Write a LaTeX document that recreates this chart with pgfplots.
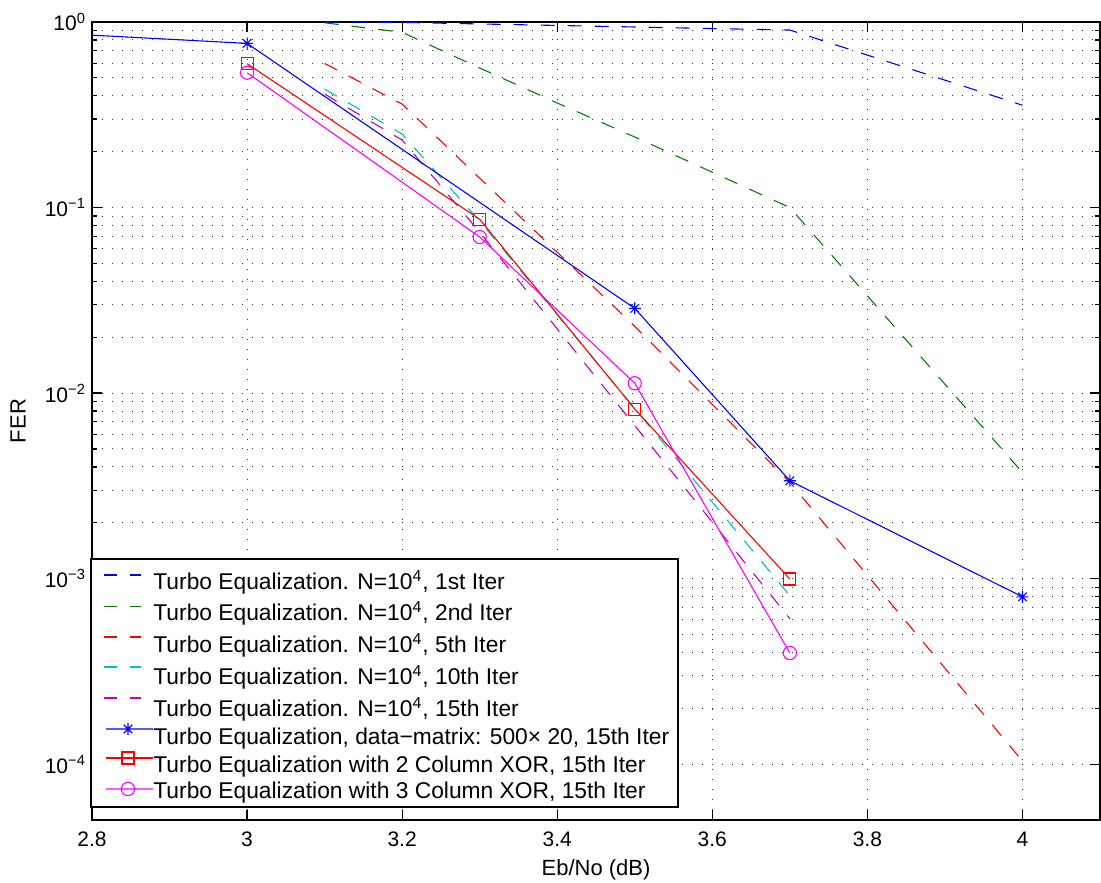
\documentclass[border=0pt]{standalone}
\usepackage{fontspec}
\setmainfont{Liberation Sans}
\usepackage{pgfplots}
\pgfplotsset{compat=1.18}
\definecolor{mblue}{rgb}{0,0,1}
\definecolor{mgreen}{rgb}{0,0.5,0}
\definecolor{mred}{rgb}{1,0,0}
\definecolor{mcyan}{rgb}{0,0.75,0.75}
\definecolor{mpurple}{rgb}{0.75,0,0.75}
\definecolor{mmag}{rgb}{1,0,1}
\pgfdeclareplotmark{mstar}{%
 \pgfpathmoveto{\pgfqpoint{-\pgfplotmarksize}{0pt}}\pgfpathlineto{\pgfqpoint{\pgfplotmarksize}{0pt}}%
 \pgfpathmoveto{\pgfqpoint{0pt}{-\pgfplotmarksize}}\pgfpathlineto{\pgfqpoint{0pt}{\pgfplotmarksize}}%
 \pgfpathmoveto{\pgfqpoint{-0.707\pgfplotmarksize}{-0.707\pgfplotmarksize}}\pgfpathlineto{\pgfqpoint{0.707\pgfplotmarksize}{0.707\pgfplotmarksize}}%
 \pgfpathmoveto{\pgfqpoint{-0.707\pgfplotmarksize}{0.707\pgfplotmarksize}}\pgfpathlineto{\pgfqpoint{0.707\pgfplotmarksize}{-0.707\pgfplotmarksize}}%
 \pgfusepathqstroke}
\newcommand{\legfont}{\fontsize{11.4}{12}\selectfont}
\begin{document}
\begin{tikzpicture}
\begin{axis}[
  scale only axis, width=504pt, height=399pt,
  ymode=log, xmin=2.8, xmax=4.1, ymin=5e-5, ymax=1,
  xtick={2.8,3,3.2,3.4,3.6,3.8,4},
  xticklabels={2.8,3,3.2,3.4,3.6,3.8,4},
  ytick={1e-4,1e-3,1e-2,1e-1,1},
  yticklabels={10\textsuperscript{−4},10\textsuperscript{−3},10\textsuperscript{−2},10\textsuperscript{−1},10\textsuperscript{0}},
  minor x tick num=0,
  tick align=inside, major tick length=5pt, minor tick length=2.5pt,
  axis line style={line width=0.8pt},
  every tick/.style={black, line width=0.6pt},
  grid=both,
  major grid style={dash pattern=on 0.6pt off 4.4pt, black!80, line width=0.5pt},
  minor grid style={dash pattern=on 0.6pt off 4.4pt, black!80, line width=0.5pt},
  /pgf/number format/assume math mode=true,
  tick label style={font=\fontsize{10.5}{12}\selectfont},
  xticklabel style={yshift=-2.3pt},
  yticklabel style={xshift=0.5pt},
  xlabel={Eb/No (dB)}, ylabel={FER},
  label style={font=\fontsize{11}{13}\selectfont},
  xlabel style={at={(axis description cs:0.5,-0.0627)}, anchor=center},
  ylabel style={at={(axis description cs:-0.0734,0.5)}, anchor=center},
  every axis plot/.append style={line width=0.55pt},
]
\addplot[mblue, dash pattern=on 7pt off 6.5pt] coordinates {(3.1,1.0) (3.2,0.995) (3.3,0.976) (3.4,0.958) (3.5,0.94) (3.6,0.922) (3.7,0.905) (4.0,0.356)};
\addplot[mgreen, dash pattern=on 7pt off 6.5pt] coordinates {(3.1,0.99) (3.2,0.88) (3.3,0.565) (3.4,0.366) (3.5,0.24) (3.6,0.155) (3.7,0.1) (4.0,0.00373)};
\addplot[mred, dash pattern=on 7pt off 6.5pt] coordinates {(3.1,0.598) (3.2,0.361) (3.3,0.144) (3.5,0.0229) (3.7,0.0033) (4.0,1.04e-4)};
\addplot[mcyan, dash pattern=on 7pt off 6.5pt] coordinates {(3.1,0.435) (3.2,0.249) (3.3,0.0844) (3.5,0.00826) (3.7,8.09e-4)};
\addplot[mpurple, dash pattern=on 7pt off 6.5pt] coordinates {(3.1,0.409) (3.2,0.231) (3.3,0.0736) (3.5,0.00668) (3.7,6.08e-4)};
\addplot[mblue, mark=mstar, mark size=3pt, mark options={solid}] coordinates {(2.5,0.99) (3,0.767) (3.5,0.0286) (3.7,0.00337) (4,7.98e-4)};
\addplot[mred, mark=square, mark size=3pt, mark options={solid}] coordinates {(3,0.596) (3.3,0.0865) (3.5,0.0082) (3.7,9.95e-4)};
\addplot[mmag, mark=o, mark size=3.3pt, mark options={solid}] coordinates {(3,0.533) (3.3,0.0694) (3.5,0.0113) (3.7,3.97e-4)};
\end{axis}
% legend box, drawn after the axis
\begin{scope}[shift={(current axis.south west)}]
  \draw[fill=white, line width=0.6pt] (-0.5pt,6.5pt) rectangle (293pt,130.5pt);
  % dashed samples
  \draw[mblue, line width=0.55pt] (6pt,122.5pt) -- (12.3pt,122.5pt) (19pt,122.5pt) -- (24.6pt,122.5pt);
  \draw[mgreen, line width=0.55pt] (6pt,106.7pt) -- (12.3pt,106.7pt) (19pt,106.7pt) -- (24.6pt,106.7pt);
  \draw[mred, line width=0.55pt] (6pt,91.5pt) -- (12.3pt,91.5pt) (19pt,91.5pt) -- (24.6pt,91.5pt);
  \draw[mcyan, line width=0.55pt] (6pt,76.5pt) -- (12.3pt,76.5pt) (19pt,76.5pt) -- (24.6pt,76.5pt);
  \draw[mpurple, line width=0.55pt] (6pt,61pt) -- (12.3pt,61pt) (19pt,61pt) -- (24.6pt,61pt);
  % solid samples with symbols
  \draw[mblue, line width=0.55pt] (7pt,45.5pt) -- (30.5pt,45.5pt)
    (18pt,42.5pt) -- (18pt,48.5pt) (15pt,45.5pt) -- (21pt,45.5pt)
    (15.88pt,43.38pt) -- (20.12pt,47.62pt) (15.88pt,47.62pt) -- (20.12pt,43.38pt);
  \draw[mred, line width=0.55pt] (7pt,31pt) -- (30.5pt,31pt) (15pt,28pt) rectangle (21pt,34pt);
  \draw[mmag, line width=0.55pt] (7pt,15.5pt) -- (30.5pt,15.5pt) (18pt,15.5pt) circle[radius=3.3pt];
  % texts
  \node[anchor=base west, inner sep=0pt, font=\legfont] at (30.5pt,115.25pt) {Turbo Equalization. N=10\textsuperscript{4}, 1st Iter};
  \node[anchor=base west, inner sep=0pt, font=\legfont] at (30.5pt,99.6pt) {Turbo Equalization. N=10\textsuperscript{4}, 2nd Iter};
  \node[anchor=base west, inner sep=0pt, font=\legfont] at (30.5pt,83.6pt) {Turbo Equalization. N=10\textsuperscript{4}, 5th Iter};
  \node[anchor=base west, inner sep=0pt, font=\legfont] at (30.5pt,67.6pt) {Turbo Equalization. N=10\textsuperscript{4}, 10th Iter};
  \node[anchor=base west, inner sep=0pt, font=\legfont] at (30.5pt,51.6pt) {Turbo Equalization. N=10\textsuperscript{4}, 15th Iter};
  \node[anchor=base west, inner sep=0pt, font=\legfont] at (30.5pt,37.6pt) {Turbo Equalization, data−matrix: 500× 20, 15th Iter};
  \node[anchor=base west, inner sep=0pt, font=\legfont] at (30.5pt,23.6pt) {Turbo Equalization with 2 Column XOR, 15th Iter};
  \node[anchor=base west, inner sep=0pt, font=\legfont] at (30.5pt,10.6pt) {Turbo Equalization with 3 Column XOR, 15th Iter};
\end{scope}
\pgfresetboundingbox
\path[use as bounding box] ([shift={(-46pt,-31pt)}]current axis.south west) rectangle ([shift={(0.5pt,11pt)}]current axis.north east);
\end{tikzpicture}
\end{document}
